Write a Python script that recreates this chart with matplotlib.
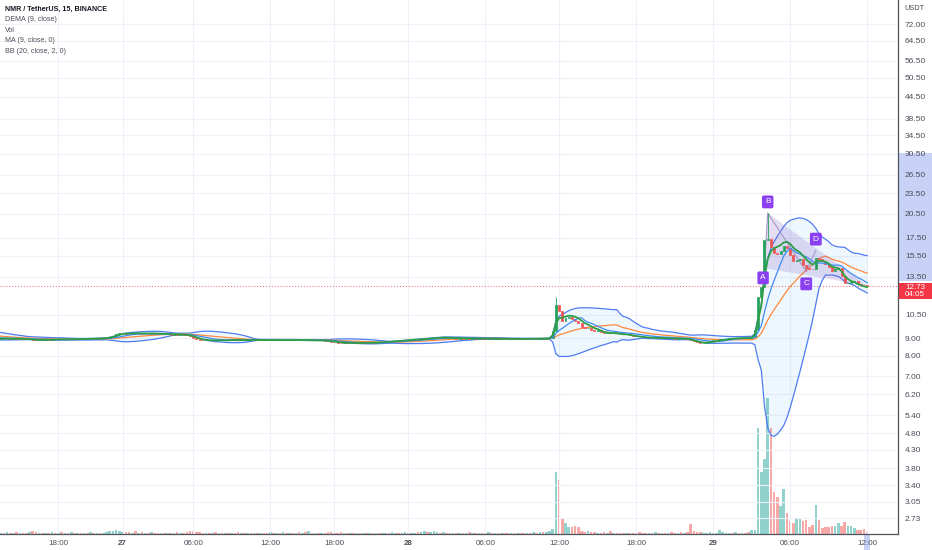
import numpy as np
import matplotlib
matplotlib.use("Agg")
import matplotlib.pyplot as plt
from matplotlib.patches import Rectangle, Polygon
import matplotlib.transforms as mtransforms

plt.rcParams["font.family"] = ["Liberation Sans", "DejaVu Sans"]

# ---------------- data ----------------
pre_closes = [9.35, 9.30, 9.32, 9.25, 9.28, 9.20, 9.22, 9.15, 9.18, 9.10,
              9.12, 9.05, 9.08, 9.02, 9.05, 9.00, 9.03, 8.98, 9.00, 8.97]

closes = [
    9.00, 8.98, 9.01, 8.97, 8.99, 8.96, 8.98, 8.95, 8.93, 8.95,
    8.90, 8.88, 8.92, 8.90, 8.93, 8.91, 8.94, 8.92, 8.95, 8.93,
    8.94, 8.92, 8.95, 8.93, 8.96, 8.94, 8.97, 8.95, 8.98, 8.96,
    8.98, 8.97, 9.00, 9.02, 9.08, 9.15, 9.22, 9.28, 9.30, 9.27,
    9.25, 9.28, 9.24, 9.26, 9.23, 9.27, 9.25, 9.28, 9.26, 9.24,
    9.25, 9.22, 9.24, 9.20, 9.23, 9.21, 9.22, 9.20, 9.18, 9.12,
    9.02, 8.95, 8.90, 8.87, 8.90, 8.88, 8.91, 8.89, 8.92, 8.90,
    8.91, 8.89, 8.92, 8.90, 8.88, 8.91, 8.89, 8.90, 8.88, 8.91,
    8.89, 8.90, 8.88, 8.87, 8.89, 8.88, 8.90, 8.87, 8.89, 8.88,
    8.89, 8.87, 8.90, 8.88, 8.89, 8.86, 8.88, 8.87, 8.89, 8.86,
    8.87, 8.85, 8.82, 8.79, 8.76, 8.74, 8.73, 8.75, 8.72, 8.74,
    8.73, 8.75, 8.72, 8.74, 8.73, 8.75, 8.74, 8.76, 8.75, 8.78,
    8.80, 8.79, 8.82, 8.84, 8.83, 8.86, 8.88, 8.87, 8.90, 8.92,
    8.91, 8.94, 8.96, 8.95, 8.98, 9.00, 9.02, 9.01, 9.03, 9.00,
    8.98, 8.99, 8.97, 8.98, 8.96, 8.98, 8.97, 8.99, 8.96, 8.98,
    8.97, 8.95, 8.97, 8.96, 8.98, 8.95, 8.97, 8.96, 8.94, 8.96,
    8.95, 8.97, 8.96, 8.94, 8.96, 8.95, 8.97, 8.96, 8.98, 8.97,
    8.99, 9.00, 9.45, 11.20, 10.75, 10.10, 10.30, 10.35, 10.20, 10.10,
    9.95, 9.70, 9.60, 9.65, 9.50, 9.45, 9.48, 9.35, 9.30, 9.35,
    9.33, 9.36, 9.30, 9.28, 9.25, 9.27, 9.20, 9.15, 9.12, 9.10,
    9.08, 9.05, 9.07, 9.04, 9.06, 9.03, 9.05, 9.02, 9.04, 9.00,
    8.97, 9.00, 8.98, 9.00, 8.95, 8.88, 8.80, 8.75, 8.72, 8.74,
    8.78, 8.82, 8.86, 8.90, 8.93, 8.95, 8.97, 8.99, 8.98, 9.00,
    8.99, 9.01, 9.00, 8.98, 9.05, 9.50, 11.80, 12.60, 17.20, 17.40,
    16.40, 15.80, 15.70, 16.00, 16.60, 16.30, 15.60, 15.00, 15.10, 15.15,
    14.60, 14.30, 14.25, 14.20, 15.30, 15.20, 15.00, 14.70, 14.40, 14.00,
    14.20, 14.30, 13.60, 12.95, 13.00, 13.05, 13.10, 12.85, 12.80, 12.75, 12.73,
]

volumes = [
    1, 1, 2, 1, 1, 2, 1, 1, 1, 2,
    3, 2, 1, 1, 1, 1, 2, 1, 1, 2,
    1, 1, 2, 1, 1, 1, 1, 1, 2, 1,
    1, 1, 1, 2, 3, 3, 4, 3, 2, 2,
    2, 1, 3, 1, 2, 1, 1, 2, 1, 1,
    1, 1, 1, 1, 1, 2, 1, 1, 2, 3,
    3, 2, 2, 1, 1, 1, 1, 2, 1, 1,
    1, 1, 1, 1, 2, 1, 1, 1, 1, 1,
    1, 1, 1, 1, 2, 1, 1, 1, 2, 1,
    1, 1, 1, 2, 1, 2, 3, 1, 1, 1,
    1, 1, 2, 2, 1, 1, 2, 1, 1, 1,
    1, 1, 1, 1, 1, 1, 1, 1, 1, 1,
    1, 1, 2, 1, 1, 1, 2, 1, 1, 1,
    2, 2, 3, 2, 2, 3, 2, 1, 2, 1,
    1, 1, 1, 1, 1, 1, 2, 1, 1, 1,
    1, 1, 2, 1, 1, 1, 1, 1, 1, 1,
    1, 1, 1, 1, 1, 1, 2, 1, 2, 2,
    2, 3, 5, 62, 54, 16, 11, 7, 7, 8,
    7, 3, 2, 3, 2, 2, 1, 1, 2, 1,
    3, 1, 1, 1, 1, 1, 1, 1, 1, 2,
    1, 1, 1, 1, 2, 1, 1, 1, 1, 2,
    1, 1, 2, 1, 2, 10, 3, 2, 2, 1,
    1, 2, 1, 1, 4, 2, 1, 1, 1, 2,
    1, 1, 1, 2, 4, 4, 106, 62, 75, 136,
    106, 42, 37, 28, 45, 21, 13, 11, 16, 15,
    13, 14, 7, 9, 29, 14, 6, 7, 7, 8,
    8, 11, 8, 12, 8, 8, 6, 4, 4, 5, 2,
]

# explicit wicks (bar index -> price)
wick_highs = {173: 11.8, 239: 20.6}
wick_lows = {251: 14.05}

# ABCD pattern drawing (bar index, price)
pattern_labels = ["A", "B", "C", "D"]
pattern_idx = [238, 239, 251, 254]
pattern_px = [14.3, 20.6, 14.0, 16.1]
pattern_end_idx = 270
pattern_end_px = 12.75

price_ticks = [72.00, 64.50, 56.50, 50.50, 44.50, 38.50, 34.50, 30.50, 26.50,
               23.50, 20.50, 17.50, 15.50, 13.50, 10.50, 9.00, 8.00, 7.00,
               6.20, 5.40, 4.80, 4.30, 3.80, 3.40, 3.05, 2.73]
time_tick_idx = [18, 38, 60, 84, 104, 127, 151, 174, 198, 222, 246, 270]
time_tick_labels = ["18:00", "27", "06:00", "12:00", "18:00", "28",
                    "06:00", "12:00", "18:00", "29", "06:00", "12:00"]
day_labels = {"27", "28", "29"}
last_price_label = "12.73"
countdown_label = "04:05"
legend_lines = ["NMR / TetherUS, 15, BINANCE", "DEMA (9, close)", "Vol",
                "MA (9, close, 0)", "BB (20, close, 2, 0)"]

# ---------------- indicators ----------------
allc = np.array(pre_closes + closes, dtype=float)
npre = len(pre_closes)
xall = np.arange(len(allc)) - npre

def sma(a, n):
    out = np.full_like(a, np.nan)
    for i in range(n - 1, len(a)):
        out[i] = a[i - n + 1:i + 1].mean()
    return out

def rstd(a, n):
    out = np.full_like(a, np.nan)
    for i in range(n - 1, len(a)):
        out[i] = a[i - n + 1:i + 1].std()
    return out

def ema(a, n):
    k = 2.0 / (n + 1)
    out = np.empty_like(a)
    out[0] = a[0]
    for i in range(1, len(a)):
        out[i] = a[i] * k + out[i - 1] * (1 - k)
    return out

basis = sma(allc, 20)
dev = rstd(allc, 20)
upper = basis + 2 * dev
lower = basis - 2 * dev
e1 = ema(allc, 9)
dema = 2 * e1 - ema(e1, 9)
ma9 = sma(allc, 9)

c = np.array(closes)
o = np.concatenate([[pre_closes[-1]], c[:-1]])
idx = np.arange(len(c))
up = c >= o

# ---------------- figure ----------------
W, H = 932, 550
fig = plt.figure(figsize=(W / 100, H / 100), dpi=100)
fig.patch.set_facecolor("white")
plot_w, plot_h = 898, 534
rect = [0, (H - plot_h) / H, plot_w / W, plot_h / H]

axv = fig.add_axes(rect)
ax = fig.add_axes(rect, sharex=axv)
axv.set_zorder(0)
ax.set_zorder(1)
ax.patch.set_visible(False)

xmin, xmax = -0.2, 279.6
ax.set_xlim(xmin, xmax)

# volume
vol = np.array(volumes, dtype=float)
vcol = np.where(up, "#92d2cc", "#f7a9a7")
axv.bar(idx, vol, width=0.8, color=vcol, linewidth=0)
axv.set_ylim(0, vol.max() * plot_h / 136)
axv.axis("off")

# price axes
ax.set_yscale("log")
ax.set_ylim(2.46, 84.4)
ax.set_yticks(price_ticks)
ax.set_yticklabels([f"{p:.2f}" for p in price_ticks])
ax.yaxis.set_minor_locator(matplotlib.ticker.NullLocator())
ax.yaxis.tick_right()
ax.tick_params(axis="y", length=0, pad=5, labelsize=6.0, labelcolor="#4a4e59")
ax.set_xticks(time_tick_idx)
ax.set_xticklabels(time_tick_labels)
for lab in ax.get_xticklabels():
    if lab.get_text() in day_labels:
        lab.set_fontweight("bold")
ax.tick_params(axis="x", length=0, pad=4, labelsize=5.8, labelcolor="#4a4e59")
ax.grid(True, color="#eef1f7", linewidth=0.8)
ax.set_axisbelow(True)
for s in ["top", "left"]:
    ax.spines[s].set_visible(False)
for s in ["right", "bottom"]:
    ax.spines[s].set_color("#50535e")
    ax.spines[s].set_linewidth(0.9)

# Bollinger bands
ax.fill_between(xall, lower, upper, color="#2196f3", alpha=0.07, linewidth=0, zorder=1)
ax.plot(xall, upper, color="#4f7df0", lw=0.9, zorder=2)
ax.plot(xall, lower, color="#4f7df0", lw=0.9, zorder=2)
ax.plot(xall, basis, color="#ff8a3c", lw=0.9, zorder=2)

# ABCD pattern
poly = Polygon([(pattern_idx[1], pattern_px[1]), (pattern_end_idx, pattern_end_px),
                (pattern_idx[0], pattern_px[0])], closed=True,
               facecolor="#7e57c2", alpha=0.2, edgecolor="none", zorder=2)
ax.add_patch(poly)
ax.plot(pattern_idx, pattern_px, color="#a297c9", lw=0.8, zorder=2)

# candles
col = np.where(up, "#22a05a", "#ef5350")
lo = np.minimum(o, c)
hi = np.maximum(o, c)
ax.bar(idx, hi - lo, bottom=lo, width=0.62, color=col, edgecolor=col,
       linewidth=0.5, zorder=3)
for k, hv in wick_highs.items():
    ax.vlines(k, hi[k], hv, color=col[k], lw=0.6, zorder=3)
for k, lv in wick_lows.items():
    ax.vlines(k, lv, lo[k], color=col[k], lw=0.6, zorder=3)

# moving averages
ax.plot(xall, ma9, color="#3f8cf5", lw=0.9, zorder=4)
ax.plot(xall, dema, color="#2e9e45", lw=1.3, zorder=4)

# pattern labels
offsets = [(-1, -7), (0, 8), (0, -9), (0, 8)]
for lab, xi, pv, off in zip(pattern_labels, pattern_idx, pattern_px, offsets):
    ax.annotate(lab, (xi, pv), xytext=off, textcoords="offset points",
                ha="center", va="center", fontsize=6, color="white",
                bbox=dict(boxstyle="round,pad=0.35,rounding_size=0.2",
                          fc="#8a3ff0", ec="none"), zorder=6)

# last price line
last = closes[-1]
ax.axhline(last, color="#f23645", lw=0.7, ls=(0, (1, 2)), alpha=0.8, zorder=1)

# price-axis highlight band and x-axis highlight
trans_y = mtransforms.blended_transform_factory(ax.transAxes, ax.transData)
ax.add_patch(Rectangle((1.0, 13.1), 34 / plot_w, 30.7 - 13.1, transform=trans_y,
                       facecolor="#c8d2f6", edgecolor="none", clip_on=False, zorder=0))
trans_x = mtransforms.blended_transform_factory(ax.transData, ax.transAxes)
ax.add_patch(Rectangle((idx[-1] - 0.9, -16 / plot_h), 1.8, 16 / plot_h, transform=trans_x,
                       facecolor="#c8d2f6", edgecolor="none", clip_on=False, zorder=0))

# last price label box (full axis width), positioned via the price scale
ax_px = ax.transData.transform((0, last))[1]
box_h = 16
box_top = ax_px + 3
fig.patches.append(Rectangle((plot_w + 1, box_top - box_h), W - plot_w - 1, box_h,
                             transform=None, facecolor="#f23645", edgecolor="none",
                             zorder=5, figure=fig))
fig.text((plot_w + W) / 2 / W, (box_top - 4.5) / H, last_price_label, fontsize=5.8,
         color="white", ha="center", va="center", zorder=6)
fig.text((plot_w + W) / 2 / W, (box_top - 11.5) / H, countdown_label, fontsize=5.8,
         color="white", ha="center", va="center", zorder=6)

# legend text
for k, t in enumerate(legend_lines):
    fig.text(5 / W, 1 - (9 + 10.6 * k) / H, t, fontsize=5.1,
             color="#131722" if k == 0 else "#4a4e59",
             fontweight="bold" if k == 0 else "normal", va="center", ha="left")
fig.text(904 / W, 1 - 8 / H, "USDT", fontsize=5.3, color="#4a4e59", va="center")

fig.savefig("out.png", dpi=100)
